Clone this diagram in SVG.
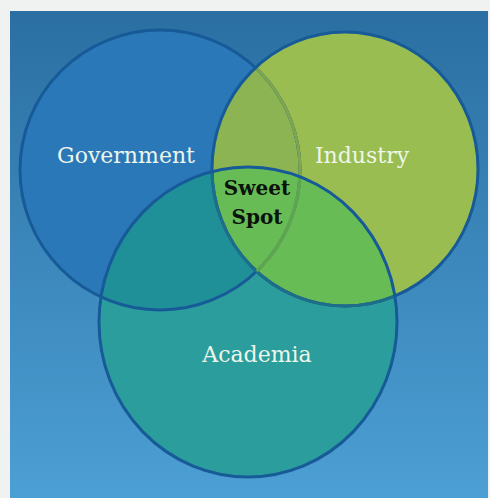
<svg xmlns="http://www.w3.org/2000/svg" width="490" height="498" viewBox="0 0 490 498">
<style>
.lbl{font-family:"DejaVu Serif","Liberation Serif",serif;font-size:22px;fill:#eef6ea;text-anchor:middle}
.sw{font-family:"DejaVu Serif","Liberation Serif",serif;font-size:20px;font-weight:bold;fill:#0a120a;text-anchor:middle}
.edge{fill:none;stroke:#175a98;stroke-width:3}
</style>
<defs>
<linearGradient id="bg" x1="0" y1="0" x2="0" y2="1">
<stop offset="0" stop-color="#2b6fa2"/>
<stop offset="1" stop-color="#4c9fd4"/>
</linearGradient>
<clipPath id="cG"><circle cx="160" cy="170" r="140"/></clipPath>
<clipPath id="cI"><ellipse cx="345" cy="169" rx="133" ry="137"/></clipPath>
<clipPath id="cA"><ellipse cx="248" cy="322" rx="149" ry="155"/></clipPath>
</defs>
<rect x="0" y="0" width="490" height="498" fill="#f0f1f1"/>
<rect x="10" y="11" width="478" height="487" fill="url(#bg)"/>
<g id="government">
<circle cx="160" cy="170" r="140" fill="#2b78b8"/>
</g>
<g id="industry">
<ellipse cx="345" cy="169" rx="133" ry="137" fill="#99bd51"/>
<ellipse cx="345" cy="169" rx="133" ry="137" fill="#8db452" clip-path="url(#cG)"/>
</g>
<g id="academia">
<ellipse cx="248" cy="322" rx="149" ry="155" fill="#2b9d9c"/>
<ellipse cx="248" cy="322" rx="149" ry="155" fill="#1f8f98" clip-path="url(#cG)"/>
<ellipse cx="248" cy="322" rx="149" ry="155" fill="#68bc56" clip-path="url(#cI)"/>
</g>
<g id="outlines">
<circle class="edge" cx="160" cy="170" r="140"/>
<circle cx="160" cy="170" r="140" fill="none" stroke="#7fa64e" stroke-width="3" clip-path="url(#cI)"/>
<ellipse class="edge" cx="345" cy="169" rx="133" ry="137"/>
<ellipse cx="345" cy="169" rx="133" ry="137" fill="none" stroke="#1e6e8a" stroke-width="3" clip-path="url(#cA)"/>
<g clip-path="url(#cA)"><circle cx="160" cy="170" r="140" fill="none" stroke="#5ea64e" stroke-width="3" clip-path="url(#cI)"/></g>
<ellipse class="edge" cx="248" cy="322" rx="149" ry="155"/>
</g>
<g id="labels">
<text class="lbl" x="126" y="163">Government</text>
<text class="lbl" x="362" y="163">Industry</text>
<text class="lbl" x="257" y="362">Academia</text>
<text class="sw" x="257" y="195">Sweet</text>
<text class="sw" x="257" y="224">Spot</text>
</g>
</svg>
